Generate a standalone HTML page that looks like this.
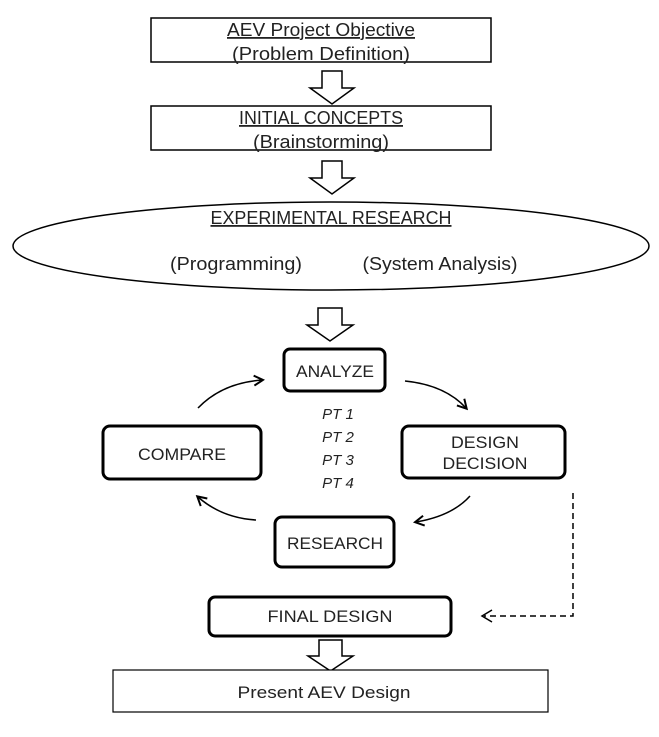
<!DOCTYPE html>
<html><head><meta charset="utf-8"><style>body{margin:0;background:#fff}svg{display:block}</style></head><body>
<svg width="659" height="737" viewBox="0 0 659 737" xmlns="http://www.w3.org/2000/svg">
<defs><marker id="a" markerWidth="12" markerHeight="12" refX="9" refY="6" orient="auto" markerUnits="userSpaceOnUse"><path d="M1,1 L10,6 L1,11" fill="none" stroke="#000" stroke-width="2"/></marker></defs>
<g font-family="'Liberation Sans',sans-serif" font-size="18" fill="#222" text-anchor="middle" lengthAdjust="spacingAndGlyphs">
<rect x="151" y="18" width="340" height="44" fill="#fff" stroke="#000" stroke-width="1.5"/>
<text x="321" y="36" text-decoration="underline" textLength="188" lengthAdjust="spacingAndGlyphs">AEV Project Objective</text>
<text x="321" y="60" textLength="178" lengthAdjust="spacingAndGlyphs">(Problem Definition)</text>
<rect x="151" y="106" width="340" height="44" fill="#fff" stroke="#000" stroke-width="1.5"/>
<text x="321" y="124" text-decoration="underline" textLength="164" lengthAdjust="spacingAndGlyphs">INITIAL CONCEPTS</text>
<text x="321" y="148" textLength="136" lengthAdjust="spacingAndGlyphs">(Brainstorming)</text>
<ellipse cx="331" cy="246" rx="318" ry="44" fill="#fff" stroke="#000" stroke-width="1.5"/>
<text x="331" y="224" text-decoration="underline" textLength="241" lengthAdjust="spacingAndGlyphs">EXPERIMENTAL RESEARCH</text>
<text x="236" y="270" textLength="132" lengthAdjust="spacingAndGlyphs">(Programming)</text>
<text x="440" y="270" textLength="155" lengthAdjust="spacingAndGlyphs">(System Analysis)</text>
</g>
<g fill="#fff" stroke="#000" stroke-width="1.5">
<path d="M322,71 H342 V88 H354 L332,104 L310,88 H322 Z"/>
<path d="M322,161 H342 V178 H354 L332,194 L310,178 H322 Z"/>
<path d="M318,308 H342 V325 H353 L330,341 L307,325 H318 Z"/>
<path d="M319,640 H342 V656 H353 L330.5,671 L308,656 H319 Z"/>
</g>
<g fill="#fff" stroke="#000" stroke-width="3">
<rect x="284" y="349" width="101" height="42" rx="6"/>
<rect x="103" y="426" width="158" height="53" rx="7"/>
<rect x="402" y="426" width="163" height="52" rx="7"/>
<rect x="275" y="517" width="119" height="50" rx="7"/>
<rect x="209" y="597" width="242" height="39" rx="6"/>
</g>
<rect x="113" y="670" width="435" height="42" fill="#fff" stroke="#000" stroke-width="1.2"/>
<g font-family="'Liberation Sans',sans-serif" font-size="17" fill="#222" text-anchor="middle">
<text x="335" y="377" textLength="78" lengthAdjust="spacingAndGlyphs">ANALYZE</text>
<text x="182" y="460" textLength="88" lengthAdjust="spacingAndGlyphs">COMPARE</text>
<text x="485" y="448" textLength="68" lengthAdjust="spacingAndGlyphs">DESIGN</text>
<text x="485" y="469" textLength="85" lengthAdjust="spacingAndGlyphs">DECISION</text>
<text x="335" y="549" textLength="96" lengthAdjust="spacingAndGlyphs">RESEARCH</text>
<text x="330" y="622" textLength="125" lengthAdjust="spacingAndGlyphs">FINAL DESIGN</text>
<text x="324" y="698" textLength="173" lengthAdjust="spacingAndGlyphs">Present AEV Design</text>
<g font-style="italic" font-size="15"><text x="338" y="419">PT 1</text><text x="338" y="442">PT 2</text><text x="338" y="465">PT 3</text><text x="338" y="488">PT 4</text></g>
</g>
<g fill="none" stroke="#000" stroke-width="1.5" marker-end="url(#a)">
<path d="M198,408 Q222,383 262,380"/>
<path d="M405,381 Q445,385 466,408"/>
<path d="M470,496 Q452,516 416,522"/>
<path d="M256,520 Q222,518 198,497"/>
</g>
<path d="M573,493 V616 H484" fill="none" stroke="#000" stroke-width="1.5" stroke-dasharray="6,4"/>
<path d="M492,610 L482,616 L492,622" fill="none" stroke="#000" stroke-width="1.5"/>
</svg>
</body></html>
